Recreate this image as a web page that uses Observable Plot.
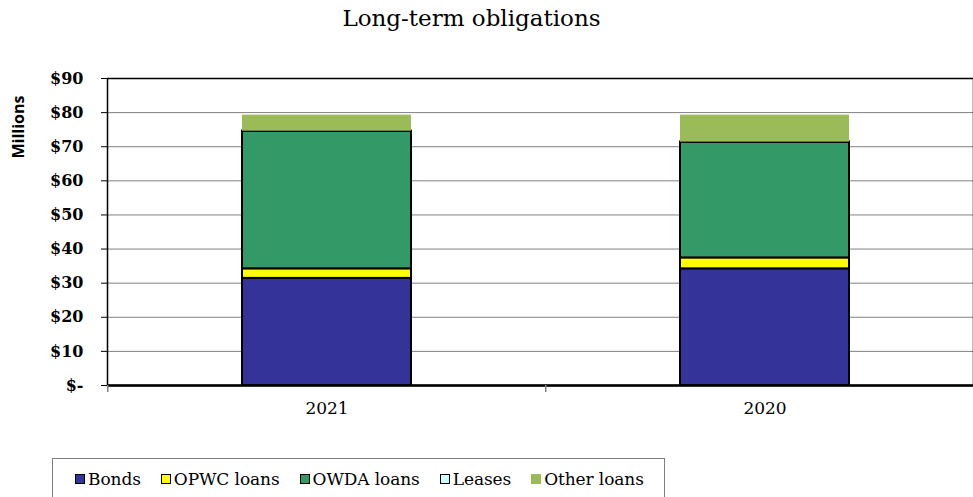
<!DOCTYPE html>
<html><head><meta charset="utf-8">
<script src="https://cdn.jsdelivr.net/npm/d3@7"></script>
<script src="https://cdn.jsdelivr.net/npm/@observablehq/plot@0.6"></script>
<style>
body{margin:0;background:#fff;width:973px;height:497px;overflow:hidden;position:relative;font-family:"DejaVu Serif",serif}
#title{position:absolute;left:0;top:0;width:943px;text-align:center;font-size:23px;line-height:36px;color:#000;z-index:2}
#ylab{position:absolute;left:18px;top:127px;transform:translate(-50%,-50%) rotate(-90deg);font-family:"Open Sans","Liberation Sans",Arial,sans-serif;font-weight:bold;font-size:16px;white-space:nowrap;z-index:2}
#chart{position:absolute;left:0;top:0;z-index:1}
#legend{position:absolute;left:52px;top:458px;width:613px;height:60px;border:1px solid #7f7f7f;box-sizing:border-box;display:flex;flex-wrap:nowrap;align-items:flex-start;padding:9px 0 0 22px;font-size:17px;line-height:22px;z-index:2;background:#fff;letter-spacing:-0.1px;white-space:nowrap}
.item{display:flex;align-items:center;margin-right:20px;flex-shrink:0;white-space:nowrap}
.sw{width:10px;height:10px;box-sizing:border-box;border:1.5px solid #000;margin-right:3px;flex-shrink:0}
</style></head><body>
<div id="chart"></div>
<div id="title">Long-term obligations</div>
<div id="ylab">Millions</div>
<div id="legend"></div>
<script>
const years = ["2021", "2020"];
const seriesNames = ["Bonds", "OPWC loans", "OWDA loans", "Leases", "Other loans"];
const seriesColors = ["#333399", "#FFFF00", "#339966", "#CCFFFF", "#9BBB59"];
const outlined = [true, true, true, true, false];
const bonds = [31.4, 34.2];
const opwcLoans = [2.8, 3.2];
const owdaLoans = [40.3, 33.9];
const leases = [0.05, 0.05];
const otherLoans = [4.7, 7.9];
const yTicks = [0, 10, 20, 30, 40, 50, 60, 70, 80, 90];

const serifFont = "DejaVu Serif, serif";
const seriesValues = [bonds, opwcLoans, owdaLoans, leases, otherLoans];
const rows = [];
years.forEach((yr, i) => {
  seriesNames.forEach((s, j) => {
    rows.push({year: yr, series: s, value: seriesValues[j][i], outline: outlined[j] ? 1 : 0});
  });
});

const xRange = [107, 984];
const step = (xRange[1] - xRange[0]) / years.length;

const chart = Plot.plot({
  width: 973,
  height: 455,
  marginTop: 78,
  marginBottom: 70,
  marginLeft: 107,
  marginRight: 0,
  style: {fontFamily: serifFont, background: "white", overflow: "visible", color: "#000"},
  x: {domain: years, range: xRange, paddingInner: 0.615, paddingOuter: 0.3075},
  y: {domain: [0, 90]},
  color: {domain: seriesNames, range: seriesColors},
  opacity: {type: "identity"},
  marks: [
    Plot.gridY(yTicks, {stroke: "#808080", strokeOpacity: 1, strokeWidth: 1}),
    Plot.frame({stroke: "#000", strokeWidth: 1.5}),
    Plot.barY(rows, {
      x: "year", y: "value", fill: "series",
      stroke: "#000", strokeWidth: 2, strokeOpacity: "outline"
    }),
    Plot.ruleY([0], {stroke: "#000", strokeWidth: 2.5}),
    Plot.axisY({
      ticks: yTicks,
      tickFormat: d => d === 0 ? "$-" : "$" + d,
      tickSize: 6, tickPadding: 18, fontSize: 16, fontWeight: "bold",
      fontFamily: serifFont,
      label: null, stroke: "#000"
    }),
    Plot.axisX({tickSize: 0, tickPadding: 16, fontSize: 17, fontFamily: serifFont, label: null}),
    Plot.axisX({tickSize: 7, tickFormat: () => "", label: null, dx: -step / 2, stroke: "#808080", strokeWidth: 1.5})
  ]
});
document.getElementById("chart").appendChild(chart);

const legend = document.getElementById("legend");
seriesNames.forEach((s, j) => {
  const it = document.createElement("div");
  it.className = "item";
  const sw = document.createElement("span");
  sw.className = "sw";
  sw.style.background = seriesColors[j];
  if (!outlined[j]) sw.style.border = "none";
  const tx = document.createElement("span");
  tx.textContent = s;
  it.appendChild(sw);
  it.appendChild(tx);
  legend.appendChild(it);
});
</script>
</body></html>
